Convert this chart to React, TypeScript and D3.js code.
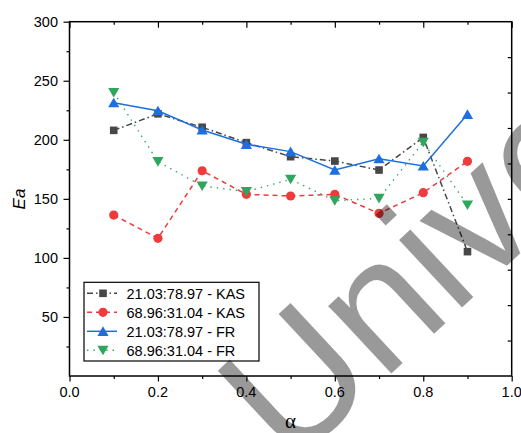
import { useEffect, useRef } from 'react';
import * as d3 from 'd3';

const W = 521;
const H = 433;

const alpha = [0.1, 0.2, 0.3, 0.4, 0.5, 0.6, 0.7, 0.8, 0.9];
const kasLow = [208, 222, 210.6, 197.6, 185.7, 182, 174.4, 202, 105.3];
const kasHigh = [136.3, 116.6, 173.8, 153.8, 152.4, 153.8, 137.7, 155.2, 181.8];
const frLow = [231.4, 224.6, 208.3, 196.2, 190, 174.4, 184, 177.8, 221.6];
const frHigh = [240, 181.5, 160.9, 156.1, 166.5, 148.4, 150.4, 197.9, 144.8];

const seriesNames = ['21.03:78.97 - KAS', '68.96:31.04 - KAS', '21.03:78.97 - FR', '68.96:31.04 - FR'];
const xTicks = [0, 0.2, 0.4, 0.6, 0.8, 1.0];
const yTicks = [50, 100, 150, 200, 250, 300];

type Marker = 'square' | 'circle' | 'up' | 'down';

const styles = [
    { color: '#474747', dash: '6,3,1.5,3', width: 1.5, marker: 'square' as Marker },
    { color: '#f03a3c', dash: '5,4', width: 1.5, marker: 'circle' as Marker },
    { color: '#1d6fe0', dash: null, width: 1.5, marker: 'up' as Marker },
    { color: '#2fa65e', dash: '1.4,5', width: 1.4, marker: 'down' as Marker },
];

function markerPath(m: Marker) {
    if (m === 'square') return 'M-3.8,-3.8H3.8V3.8H-3.8Z';
    if (m === 'circle') return 'M-4.6,0A4.6,4.6 0 1,0 4.6,0A4.6,4.6 0 1,0 -4.6,0Z';
    if (m === 'up') return 'M0,-5L5.6,4.6H-5.6Z';
    return 'M0,5L5.6,-4.6H-5.6Z';
}

export default function App() {
    const ref = useRef<SVGSVGElement>(null);

    useEffect(() => {
        const svg = d3.select(ref.current);
        svg.selectAll('*').remove();

        const margin = { left: 69.5, right: W - 511.7, top: 21.7, bottom: H - 376 };
        const font = 'Liberation Sans, Arial, sans-serif';

        const x = d3.scaleLinear().domain([0, 1]).range([margin.left, W - margin.right]);
        const y = d3.scaleLinear().domain([0, 300]).range([H - margin.bottom, margin.top]);

        const data = [kasLow, kasHigh, frLow, frHigh];

        // Series lines and markers
        data.forEach((vals, i) => {
            const st = styles[i];
            const pts = alpha.map((a, j) => [a, vals[j]] as [number, number]);
            const line = d3.line<[number, number]>().x(d => x(d[0])).y(d => y(d[1]));
            svg.append('path')
                .attr('d', line(pts))
                .attr('fill', 'none')
                .attr('stroke', st.color)
                .attr('stroke-width', st.width)
                .attr('stroke-dasharray', st.dash);
            svg.append('g').selectAll('path').data(pts).join('path')
                .attr('transform', d => `translate(${x(d[0])},${y(d[1])})`)
                .attr('d', markerPath(st.marker))
                .attr('fill', st.color);
        });

        // Bottom axis
        svg.append('g')
            .attr('transform', `translate(0,${y(0)})`)
            .call(d3.axisBottom(x).tickValues(d3.range(0, 1.01, 0.1)).tickSize(3).tickFormat(() => ''))
            .call(g => g.selectAll('.tick line').filter((_, i) => i % 2 === 0).attr('y2', 5.5))
            .call(g => g.select('.domain').remove());
        svg.append('g').selectAll('text').data(xTicks).join('text')
            .attr('x', d => x(d)).attr('y', 397)
            .attr('text-anchor', 'middle')
            .attr('font-family', font).attr('font-size', 14.5)
            .text(d => d3.format('.1f')(d));

        // Left axis
        svg.append('g')
            .attr('transform', `translate(${x(0)},0)`)
            .call(d3.axisLeft(y).tickValues(d3.range(25, 301, 25)).tickSize(3).tickFormat(() => ''))
            .call(g => g.selectAll('.tick line').filter((d: any) => d % 50 === 0).attr('x2', -6))
            .call(g => g.select('.domain').remove());
        svg.append('g').selectAll('text').data(yTicks).join('text')
            .attr('x', 58).attr('y', d => y(d))
            .attr('dy', '0.36em')
            .attr('text-anchor', 'end')
            .attr('font-family', font).attr('font-size', 14.5)
            .text(d => d);

        // Top axis (inward ticks)
        svg.append('g')
            .attr('transform', `translate(0,${y(300)})`)
            .call(d3.axisBottom(x).tickValues(d3.range(0, 1.01, 0.1)).tickSize(3).tickFormat(() => ''))
            .call(g => g.selectAll('.tick line').filter((_, i) => i % 2 === 0).attr('y2', 6))
            .call(g => g.select('.domain').remove());

        // Right axis (inward ticks, 10 divisions)
        const yR = d3.scaleLinear().domain([0, 10]).range([y(0), y(300)]);
        svg.append('g')
            .attr('transform', `translate(${x(1)},0)`)
            .call(d3.axisRight(yR).tickValues(d3.range(1, 10)).tickSize(-4).tickFormat(() => ''))
            .call(g => g.select('.domain').remove());

        // Frame
        svg.append('rect')
            .attr('x', x(0)).attr('y', y(300))
            .attr('width', x(1) - x(0)).attr('height', y(0) - y(300))
            .attr('fill', 'none').attr('stroke', '#000').attr('stroke-width', 1.5);

        svg.selectAll('.tick line').attr('stroke', '#000').attr('stroke-width', 1.2);

        // Axis titles
        svg.append('text')
            .attr('transform', `translate(25,199) rotate(-90)`)
            .attr('text-anchor', 'middle')
            .attr('font-family', font).attr('font-style', 'italic').attr('font-size', 17)
            .text('Ea');
        svg.append('text')
            .attr('x', x(0.5)).attr('y', 428)
            .attr('text-anchor', 'middle')
            .attr('font-family', 'Liberation Serif, serif').attr('font-size', 21)
            .text('α');

        // Legend
        const lg = svg.append('g');
        lg.append('rect')
            .attr('x', 84).attr('y', 282.3).attr('width', 175).attr('height', 78.7)
            .attr('fill', '#fff').attr('stroke', '#000').attr('stroke-width', 1.2);
        seriesNames.forEach((name, i) => {
            const st = styles[i];
            const cy = 293.3 + i * 19;
            lg.append('line')
                .attr('x1', 87).attr('x2', 117).attr('y1', cy).attr('y2', cy)
                .attr('stroke', st.color).attr('stroke-width', st.width)
                .attr('stroke-dasharray', st.dash);
            lg.append('path')
                .attr('transform', `translate(103,${cy})`)
                .attr('d', markerPath(st.marker))
                .attr('fill', st.color);
            lg.append('text')
                .attr('x', 126.5).attr('y', cy).attr('dy', '0.36em')
                .attr('font-family', font).attr('font-size', 14.5)
                .text(name);
        });

        // Watermark
        svg.append('text')
            .attr('transform', 'translate(290,468) rotate(-43)')
            .attr('font-family', font).attr('font-size', 175)
            .attr('fill', '#000').attr('fill-opacity', 0.4)
            .text('University');
    }, []);

    return (
        <svg ref={ref} width={W} height={H}
            style={{ position: 'absolute', left: 0, top: 0, background: '#fff' }} />
    );
}
